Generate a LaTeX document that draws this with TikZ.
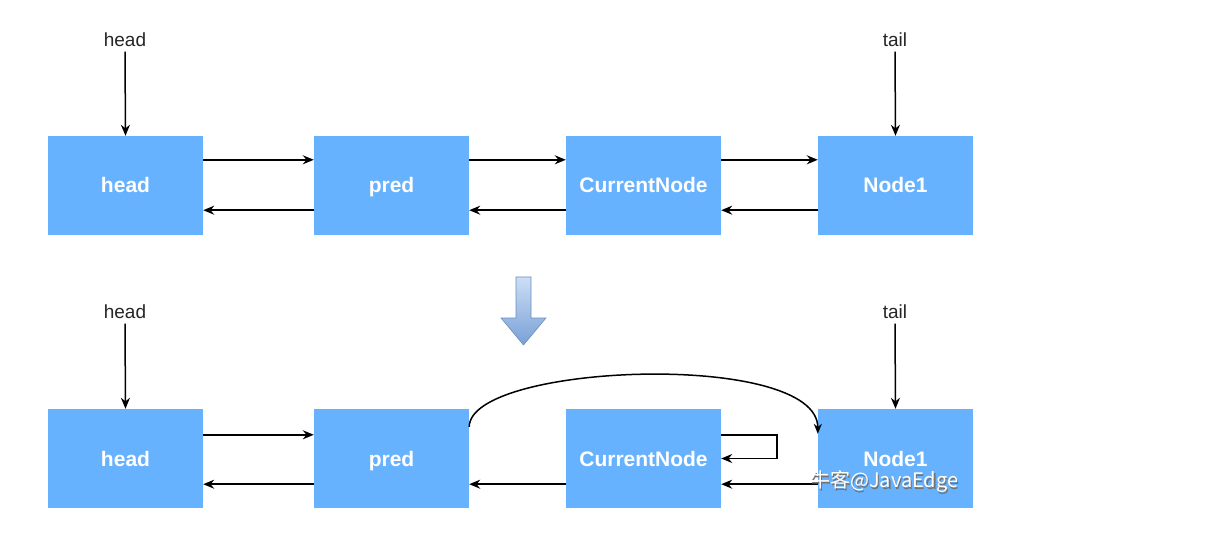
\documentclass[tikz,border=0pt]{standalone}
\usepackage{fontspec}
\setmainfont{Liberation Sans}
\newfontfamily\cjk{Noto Sans CJK SC}
\usetikzlibrary{arrows.meta,calc}
\definecolor{boxblue}{RGB}{102,178,255}
\definecolor{arrowtop}{RGB}{205,222,245}
\definecolor{arrowbot}{RGB}{120,160,215}
\tikzset{
  x=1pt,y=-1pt,
  lnode/.style={draw=none,fill=boxblue,minimum width=155pt,minimum height=99pt,inner sep=0pt,
    text=white,font=\fontsize{21}{24}\selectfont\bfseries,text height=15pt,text depth=-1pt},
  ptr/.style={font=\fontsize{19}{22}\selectfont,text=black!85,inner sep=0pt,text height=14pt,text depth=1pt},
  conn/.style={draw=black,line width=1.5pt,-{Stealth[length=11pt,width=9pt]}},
  wmark/.style={font=\cjk\fontsize{20}{24}\selectfont,inner sep=0pt,anchor=west},
}
\begin{document}
\begin{tikzpicture}
\useasboundingbox (0,0) rectangle (1231,537);
\fill[white] (0,0) rectangle (1231,537);
% top row
\node[lnode] (h1) at (125.5,185.5) {head};
\node[lnode] (p1) at (391.5,185.5) {pred};
\node[lnode] (c1) at (643.5,185.5) {CurrentNode};
\node[lnode] (n1) at (895.5,185.5) {Node1};
\node[ptr] (hl1) at (125,40) {head};
\node[ptr] (tl1) at (895,40) {tail};
\draw[conn] ($(hl1.south)+(0,4)$) -- (h1.north);
\draw[conn] ($(tl1.south)+(0,4)$) -- (n1.north);
\draw[conn] ($(h1.north east)+(0,24)$) -- ($(p1.north west)+(0,24)$);
\draw[conn] ($(p1.north east)+(0,24)$) -- ($(c1.north west)+(0,24)$);
\draw[conn] ($(c1.north east)+(0,24)$) -- ($(n1.north west)+(0,24)$);
\draw[conn] ($(p1.south west)+(0,-25)$) -- ($(h1.south east)+(0,-25)$);
\draw[conn] ($(c1.south west)+(0,-25)$) -- ($(p1.south east)+(0,-25)$);
\draw[conn] ($(n1.south west)+(0,-25)$) -- ($(c1.south east)+(0,-25)$);
% block arrow
\shade[top color=arrowtop,bottom color=arrowbot,draw=arrowbot!90!black,line width=0.6pt]
  (516,277) -- (531,277) -- (531,318) -- (546,318) -- (523.5,345) -- (501,318) -- (516,318) -- cycle;
% bottom row
\node[lnode] (h2) at (125.5,458.5) {head};
\node[lnode] (p2) at (391.5,458.5) {pred};
\node[lnode] (c2) at (643.5,458.5) {CurrentNode};
\node[lnode] (n2) at (895.5,458.5) {Node1};
\node[ptr] (hl2) at (125,312) {head};
\node[ptr] (tl2) at (895,312) {tail};
\draw[conn] ($(hl2.south)+(0,4)$) -- (h2.north);
\draw[conn] ($(tl2.south)+(0,4)$) -- (n2.north);
\draw[conn] ($(h2.north east)+(0,26)$) -- ($(p2.north west)+(0,26)$);
\draw[conn] ($(p2.south west)+(0,-24)$) -- ($(h2.south east)+(0,-24)$);
\draw[conn] ($(c2.south west)+(0,-24)$) -- ($(p2.south east)+(0,-24)$);
\draw[conn] ($(n2.south west)+(0,-24)$) -- ($(c2.south east)+(0,-24)$);
% curve pred -> Node1
\draw[line width=1.5pt,-{Stealth[length=10pt,width=8pt]}] ($(p2.north east)+(0,18)$)
  .. controls (470,363) and (818,350) .. ($(n2.north west)+(0,25)$);
% self loop
\coordinate (sl) at (777,0);
\draw[conn] ($(c2.north east)+(0,26)$) -| ($(sl|-c2.center)$) -- (c2.east);
% watermark
\node[wmark,text=black!55] (wms) at (811.2,483.2) {牛客@JavaEdge};
\node[wmark,text=white] (wm) at (810,482) {牛客@JavaEdge};
\end{tikzpicture}
\end{document}
